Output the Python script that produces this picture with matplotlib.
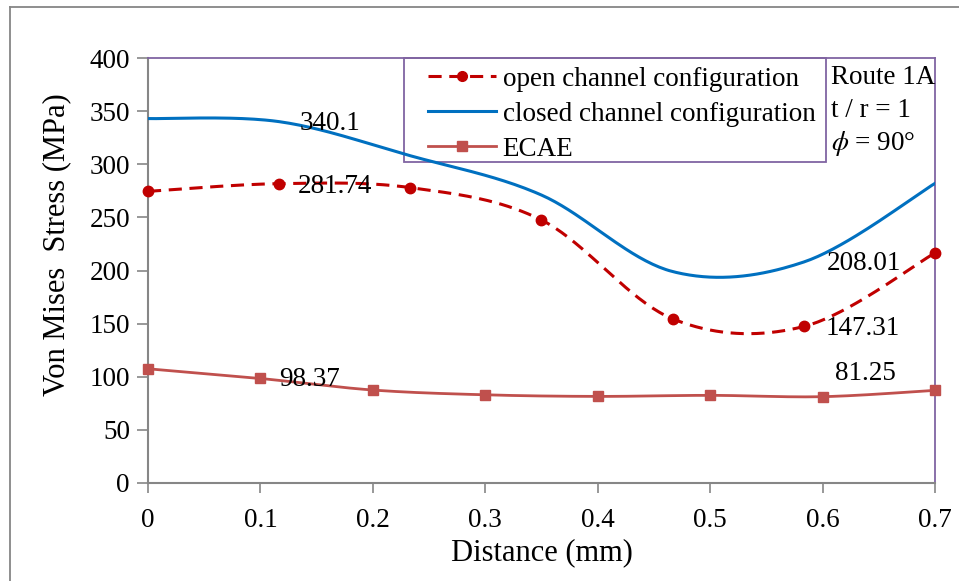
import numpy as np
import matplotlib
matplotlib.use("Agg")
import matplotlib.pyplot as plt
from matplotlib.lines import Line2D
from matplotlib.patches import Rectangle

plt.rcParams['font.family'] = ['Liberation Serif', 'DejaVu Serif']
plt.rcParams['mathtext.fontset'] = 'stix'

# ---- data ----
x_channel = [0, 0.7/6, 2*0.7/6, 3*0.7/6, 4*0.7/6, 5*0.7/6, 0.7]
open_channel = [274.5, 281.74, 278.0, 247.5, 154.5, 147.31, 216.5]
closed_channel = [343.0, 340.1, 308.0, 271.0, 199.0, 208.01, 282.0]
x_ecae = [0, 0.1, 0.2, 0.3, 0.4, 0.5, 0.6, 0.7]
ecae = [107.5, 98.37, 87.5, 83.0, 81.5, 82.5, 81.25, 87.2]

labels = ["open channel configuration", "closed channel configuration", "ECAE"]
annotations = [("340.1", 0.1352, 338.8), ("281.74", 0.1334, 279.5),
               ("208.01", 0.604, 207.0), ("147.31", 0.603, 145.0),
               ("98.37", 0.1165, 97.0), ("81.25", 0.611, 103.5)]
xticks = [0, 0.1, 0.2, 0.3, 0.4, 0.5, 0.6, 0.7]
yticks = [0, 50, 100, 150, 200, 250, 300, 350, 400]
info_lines = ["Route 1A", "t / r = 1", r"$\phi$ = 90°"]


def smooth(xs, ys, n=40):
    """Excel-style Bezier smoothing through the points."""
    P = np.column_stack([xs, ys]).astype(float)
    m = len(P)
    out = []
    for i in range(m - 1):
        p0 = P[i - 1] if i > 0 else P[i]
        p1 = P[i]
        p2 = P[i + 1]
        p3 = P[i + 2] if i + 2 < m else P[i + 1]
        c1 = p1 + (p2 - p0) / 6.0
        c2 = p2 - (p3 - p1) / 6.0
        t = np.linspace(0, 1, n)[:, None]
        seg = ((1 - t) ** 3) * p1 + 3 * ((1 - t) ** 2) * t * c1 + 3 * (1 - t) * t ** 2 * c2 + t ** 3 * p2
        out.append(seg if i == 0 else seg[1:])
    s = np.vstack(out)
    return s[:, 0], s[:, 1]


C_OPEN = "#C00000"
C_CLOSED = "#0070C0"
C_ECAE = "#C0504D"
C_PURPLE = "#8064A2"
C_GRAY = "#868686"

FS = 19.5
DASH = (0, (4.3, 2.5))

fig = plt.figure(figsize=(9.59, 5.81), dpi=100)
ax = fig.add_axes([148/959, 1 - 483/581, (935-148)/959, (483-58)/581])

# legend frame (drawn beneath the lines)
ax.add_patch(Rectangle((0.3253, 0.7553), 0.8615 - 0.3253, 1 - 0.7553, transform=ax.transAxes,
                       facecolor='none', edgecolor=C_PURPLE, lw=1.3, zorder=2, clip_on=False))

sx, sy = smooth(x_channel, closed_channel)
ax.plot(sx, sy, color=C_CLOSED, lw=2.2, zorder=3)

sx, sy = smooth(x_channel, open_channel)
ax.plot(sx, sy, color=C_OPEN, lw=2.2, ls=DASH, zorder=3)
ax.plot(x_channel, open_channel, ls='none', marker='o', ms=7.5, color=C_OPEN,
        clip_on=False, zorder=4)

sx, sy = smooth(x_ecae, ecae)
ax.plot(sx, sy, color=C_ECAE, lw=2.0, zorder=3)
ax.plot(x_ecae, ecae, ls='none', marker='s', ms=6.5, color=C_ECAE,
        clip_on=False, zorder=4)

ax.set_xlim(0, 0.7)
ax.set_ylim(0, 400)
ax.set_xticks(xticks)
ax.set_xticklabels(["0" if v == 0 else f"{v:g}" for v in xticks])
ax.set_yticks(yticks)
ax.tick_params(axis='both', direction='out', length=8, width=1.2, color=C_GRAY,
               labelsize=FS, pad=5)
ax.tick_params(axis='x', length=7, pad=11)
for s in ['left', 'bottom']:
    ax.spines[s].set_color(C_GRAY)
    ax.spines[s].set_linewidth(1.5)
for s in ['top', 'right']:
    ax.spines[s].set_color(C_PURPLE)
    ax.spines[s].set_linewidth(1.3)

ax.set_xlabel("Distance (mm)", fontsize=22, labelpad=4)
ax.set_ylabel("Von Mises  Stress (MPa)", fontsize=22)
ax.yaxis.set_label_coords(-0.097, 0.56)

for txt, xv, yv in annotations:
    ax.text(xv, yv, txt, fontsize=FS, ha='left', va='center', zorder=5)

handles = [
    Line2D([], [], color=C_OPEN, lw=2.2, ls=DASH, marker='o', ms=7, markevery=[1]),
    Line2D([], [], color=C_CLOSED, lw=2.2),
    Line2D([], [], color=C_ECAE, lw=2.0, marker='s', ms=6.5, markevery=[1]),
]
for h in handles:
    h.set_xdata([0, 0.5, 1])
leg = ax.legend(handles, labels, loc='upper left', bbox_to_anchor=(0.3558, 0.980),
                fontsize=FS, frameon=False, handlelength=2.5, handletextpad=0.26,
                borderpad=0, labelspacing=0.37, borderaxespad=0)
leg.set_zorder(6)

for txt, yy in zip(info_lines, [0.953, 0.877, 0.800]):
    ax.text(0.868, yy, txt, transform=ax.transAxes, fontsize=FS, va='center', ha='left')

# outer chart border (top and left visible)
fig.add_artist(Line2D([10/959, 10/959], [0, 1 - 7/581], color=C_GRAY, lw=1.3))
fig.add_artist(Line2D([10/959, 1], [1 - 7/581, 1 - 7/581], color=C_GRAY, lw=1.3))

fig.savefig("out.png", dpi=100)
